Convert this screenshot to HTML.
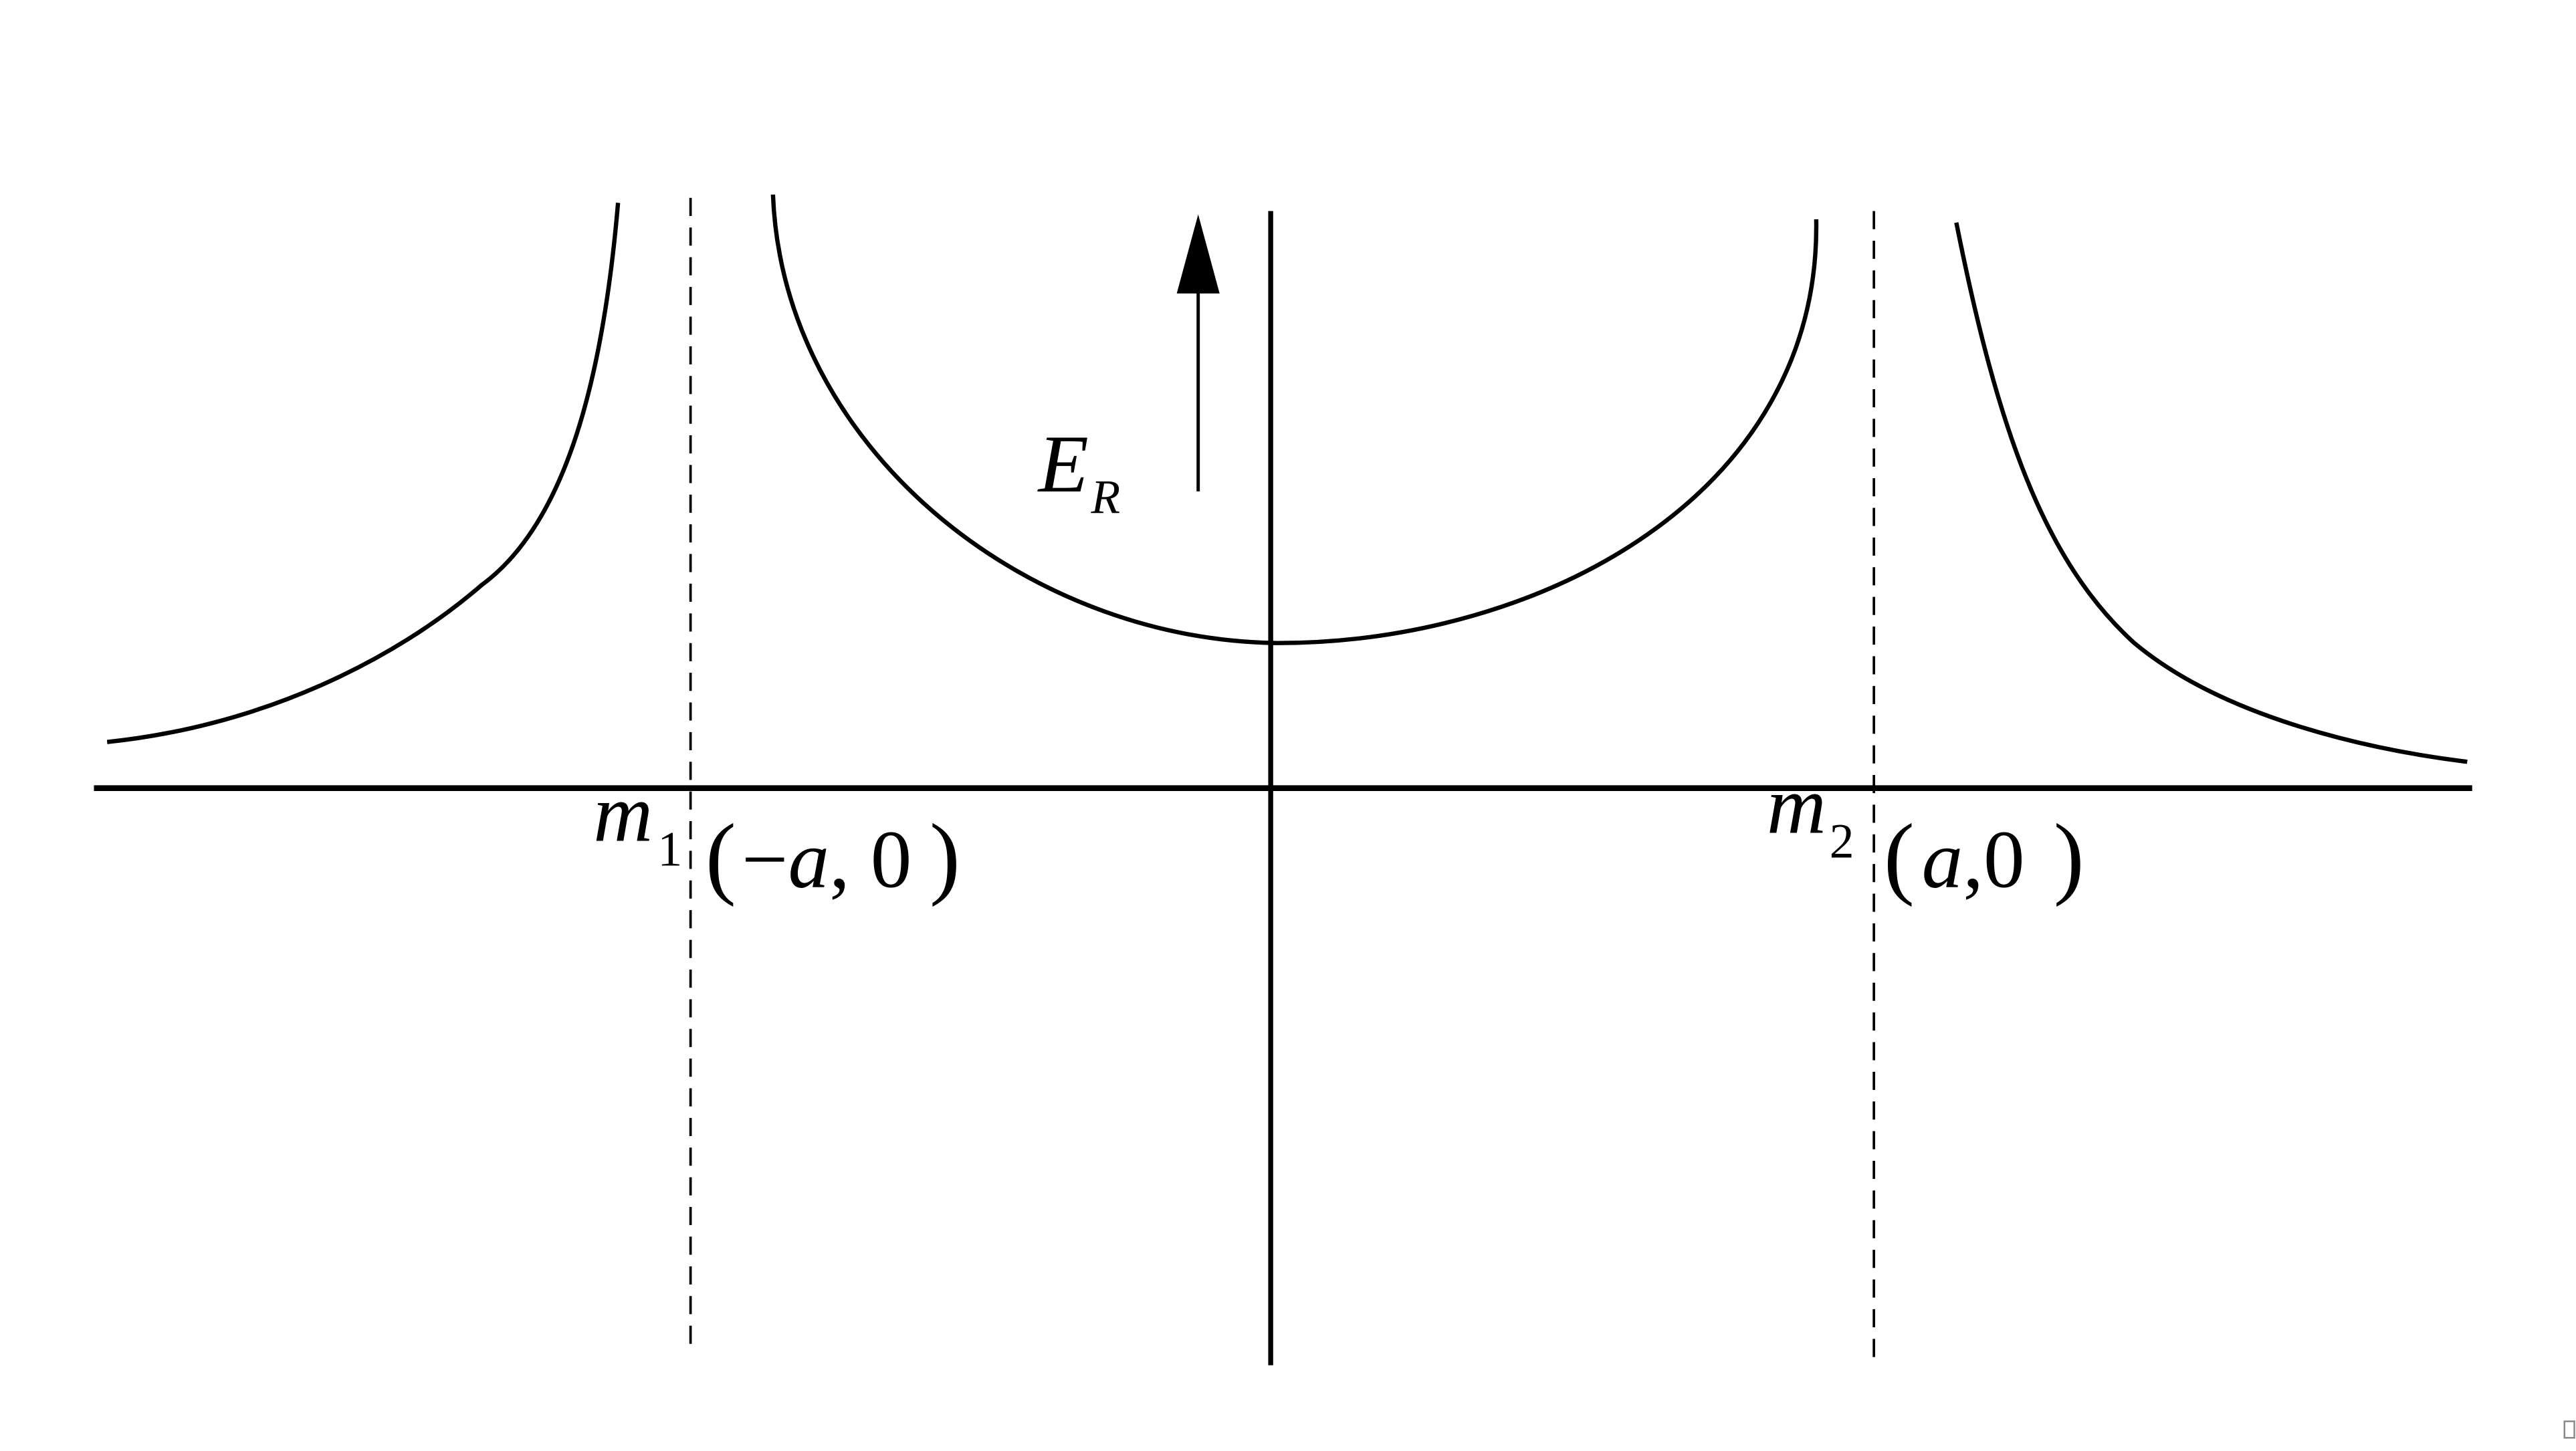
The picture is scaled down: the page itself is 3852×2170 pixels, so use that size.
<!DOCTYPE html>
<html><head><meta charset="utf-8"><style>
html,body{margin:0;padding:0;background:#fff;}
svg{display:block;}
text{font-family:"Liberation Serif",serif;fill:#000;}
</style></head><body>
<svg width="3852" height="2170" viewBox="0 0 1563 880" preserveAspectRatio="none" xmlns="http://www.w3.org/2000/svg">
<rect width="1563" height="880" fill="#fff"/>
<line x1="57" y1="478" x2="1500" y2="478" stroke="#000" stroke-width="3.5"/>
<line x1="771" y1="128" x2="771" y2="828" stroke="#000" stroke-width="3"/>
<line x1="419" y1="120" x2="419" y2="822" stroke="#000" stroke-width="1.5" stroke-dasharray="11,7"/>
<line x1="1137" y1="128" x2="1137" y2="830" stroke="#000" stroke-width="1.5" stroke-dasharray="11,7"/>
<g fill="none" stroke="#000" stroke-width="2.6">
<path d="M375,123 C365,240 340,320 292,355 C240,400 160,440 65,450"/>
<path d="M469,118 C475,270 620,388 775,390 C935,390 1105,300 1102,133"/>
<path d="M1187,135 C1212,260 1240,340 1295,390 C1350,436 1440,455 1497,462"/>
</g>
<line x1="727" y1="298" x2="727" y2="160" stroke="#000" stroke-width="2"/>
<polygon points="727,130 740,178 714,178" fill="#000"/>
<text x="630" y="298" font-size="50" font-style="italic">E</text>
<text x="662" y="311" font-size="29" font-style="italic">R</text>
<text x="360" y="510" font-size="50" font-style="italic">m</text>
<text x="399" y="525" font-size="30">1</text>
<text x="428" y="538" font-size="56">(</text>
<text x="450" y="538" font-size="50">−<tspan font-style="italic">a</tspan>, 0</text>
<text x="564" y="538" font-size="56">)</text>
<text x="1072" y="505" font-size="50" font-style="italic">m</text>
<text x="1110" y="520" font-size="30">2</text>
<text x="1143" y="538" font-size="56">(</text>
<text x="1166" y="538" font-size="50"><tspan font-style="italic">a</tspan>,0</text>
<text x="1246" y="538" font-size="56">)</text>
<rect x="1556" y="862" width="6" height="10" fill="none" stroke="#888" stroke-width="1"/>
</svg>
</body></html>
